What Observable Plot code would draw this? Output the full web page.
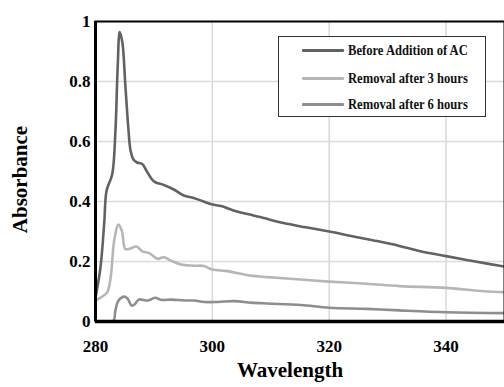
<!DOCTYPE html>
<html><head><meta charset="utf-8">
<script src="https://cdn.jsdelivr.net/npm/d3@7"></script>
<script src="https://cdn.jsdelivr.net/npm/@observablehq/plot@0.6"></script>
<style>
body{margin:0;background:#fff;}
#wrap{position:relative;width:504px;height:387px;overflow:hidden;font-family:'Liberation Serif';}
.legend{position:absolute;left:278px;top:36px;width:208px;height:81px;border:1px solid #333;background:#fff;box-sizing:border-box;font-weight:bold;font-size:15px;color:#111;}
.legend .sw{position:absolute;left:23px;width:42px;height:3px;border-radius:1px;}
.legend .lab{position:absolute;left:69px;white-space:nowrap;transform:scaleX(0.84);transform-origin:left center;}
</style></head>
<body><div id="wrap"></div>
<script>
// Data
const seriesNames = ["Before Addition of AC", "Removal after 3 hours", "Removal after 6 hours"];
const seriesColors = ["#626262", "#b6b6b6", "#8e8e8e"];

const wlBefore = [280, 280.85, 281.5, 281.9, 282.85, 283.4, 283.8, 284.15, 284.6, 285.1, 285.6, 286, 286.5, 287.1, 288, 288.8, 290, 291.7, 293.4, 295.1, 296.8, 298.5, 300, 301.5, 303.6, 306, 308.2, 312.2, 316, 320, 324, 328.2, 332, 335.6, 340, 345, 350];
const absBefore = [0.08, 0.18, 0.33, 0.437, 0.49, 0.63, 0.85, 0.965, 0.93, 0.79, 0.65, 0.57, 0.54, 0.53, 0.525, 0.50, 0.467, 0.455, 0.44, 0.42, 0.412, 0.40, 0.39, 0.385, 0.37, 0.358, 0.348, 0.328, 0.314, 0.30, 0.284, 0.268, 0.252, 0.234, 0.218, 0.20, 0.183];

const wl3h = [280, 280.9, 282, 282.6, 283.2, 283.9, 284.5, 285.1, 285.8, 287, 288, 289.2, 290.6, 291.7, 292.9, 294.6, 296.8, 298.6, 300, 302.5, 306.5, 309.4, 315.1, 320, 326.4, 332.1, 340, 346.5, 350];
const abs3h = [0.07, 0.08, 0.097, 0.148, 0.27, 0.323, 0.303, 0.242, 0.242, 0.25, 0.234, 0.228, 0.209, 0.214, 0.203, 0.19, 0.186, 0.185, 0.173, 0.168, 0.153, 0.148, 0.14, 0.133, 0.126, 0.118, 0.112, 0.101, 0.098];

const wl6h = [280, 283, 283.4, 283.8, 284.2, 285, 285.5, 286.2, 286.7, 287.4, 289, 290.2, 291.3, 293, 295.3, 296.9, 298.6, 300.9, 303.7, 306.6, 309.4, 315.1, 320, 326.4, 332, 340, 350];
const abs6h = [0, 0, 0.037, 0.065, 0.076, 0.083, 0.076, 0.053, 0.057, 0.073, 0.07, 0.079, 0.072, 0.073, 0.07, 0.07, 0.065, 0.065, 0.068, 0.063, 0.06, 0.055, 0.046, 0.042, 0.037, 0.031, 0.028];

const xTicks = [280, 300, 320, 340];
const yTicks = [0, 0.2, 0.4, 0.6, 0.8, 1];
const xLabel = "Wavelength";
const yLabel = "Absorbance";

const mk = (wl, ab, name) => wl.map((w, i) => ({wl: w, a: ab[i], series: name}));
const data = [
  ...mk(wlBefore, absBefore, seriesNames[0]),
  ...mk(wl3h, abs3h, seriesNames[1]),
  ...mk(wl6h, abs6h, seriesNames[2])
];

const chart = Plot.plot({
  width: 504, height: 387,
  marginLeft: 95, marginRight: 0, marginTop: 21, marginBottom: 66,
  style: {fontFamily: "Liberation Serif", fontWeight: "bold", color: "#000", background: "transparent", overflow: "visible"},
  x: {domain: [280, 350]},
  y: {domain: [0, 1]},
  color: {domain: seriesNames, range: seriesColors},
  marks: [
    Plot.gridX(xTicks.slice(1), {stroke: "#d8d8d8", strokeOpacity: 1, strokeWidth: 1.5}),
    Plot.gridY(yTicks.slice(1, -1), {stroke: "#dcdcdc", strokeOpacity: 1, strokeWidth: 1.5}),
    Plot.line(data, {x: "wl", y: "a", z: "series", stroke: "series", strokeWidth: 2.6, curve: "catmull-rom", clip: true}),
    Plot.frame({stroke: "#000", strokeWidth: 2}),
    Plot.ruleX([280], {stroke: "#000", strokeWidth: 3}),
    Plot.ruleY([0], {stroke: "#000", strokeWidth: 3.5}),
    Plot.axisX({ticks: xTicks, tickSize: 0, tickPadding: 18, fontSize: 17, fontWeight: "bold", label: null, tickFormat: d => String(d)}),
    Plot.axisY({ticks: yTicks, tickSize: 0, tickPadding: 5, fontSize: 17, fontWeight: "bold", label: null, tickFormat: d => String(d)}),
    Plot.text([xLabel], {frameAnchor: "bottom", textAnchor: "middle", dx: -10, dy: 55, fontSize: 21, fontWeight: "bold"}),
    Plot.text([yLabel], {frameAnchor: "left", textAnchor: "middle", rotate: -90, dx: -75, dy: 8, fontSize: 21, fontWeight: "bold"})
  ]
});
const wrap = document.getElementById("wrap");
wrap.appendChild(chart);

// Legend
const leg = document.createElement("div");
leg.className = "legend";
const rowsY = [13, 41, 67];
seriesNames.forEach((n, i) => {
  const sw = document.createElement("div");
  sw.className = "sw";
  sw.style.top = (rowsY[i] - 1.5) + "px";
  sw.style.background = seriesColors[i];
  leg.appendChild(sw);
  const lab = document.createElement("div");
  lab.className = "lab";
  lab.style.top = (rowsY[i] - 9) + "px";
  lab.style.lineHeight = "18px";
  lab.textContent = n;
  leg.appendChild(lab);
});
wrap.appendChild(leg);
</script>
</body></html>
